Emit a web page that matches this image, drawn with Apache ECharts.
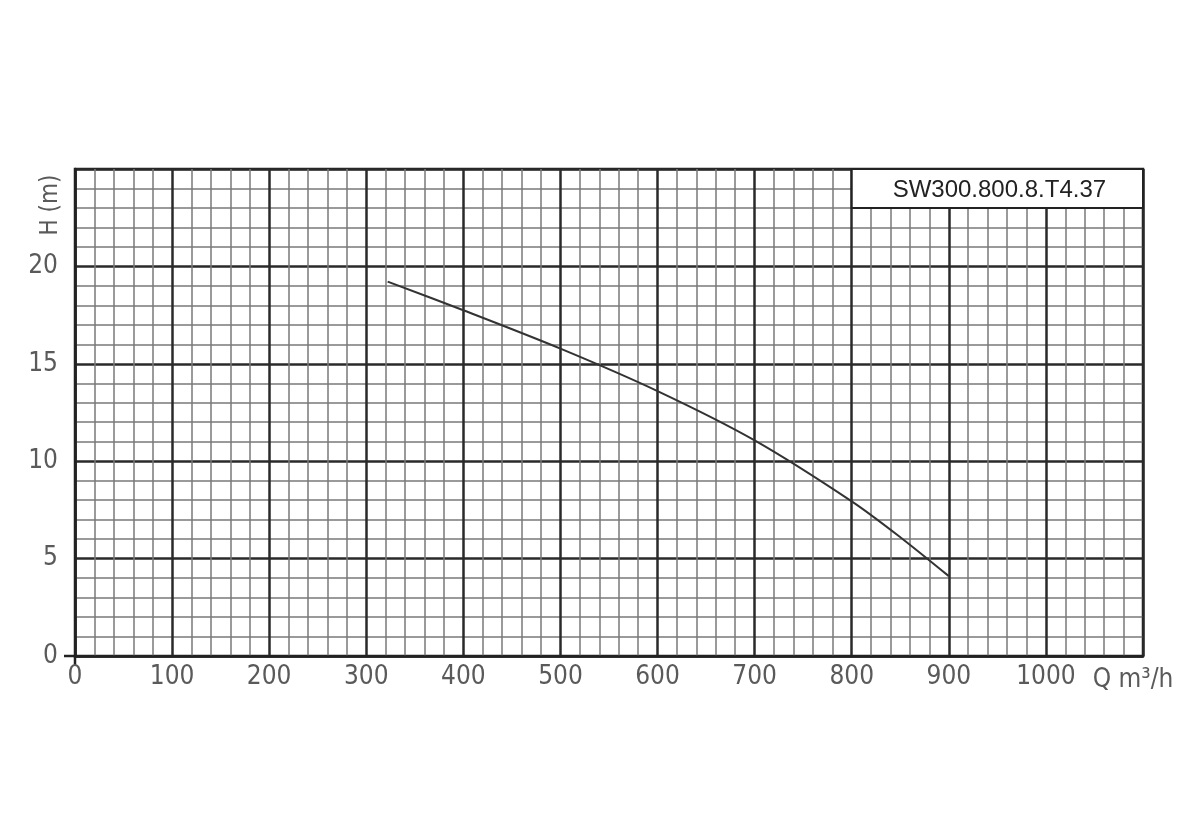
<!DOCTYPE html>
<html>
<head>
<meta charset="utf-8">
<script src="https://cdn.jsdelivr.net/npm/echarts@6/dist/echarts.min.js"></script>
<style>
html,body{margin:0;padding:0;background:#fff;}
#chart{width:1200px;height:832px;}
</style>
</head>
<body>
<div id="chart"></div>
<script>
// Data
const flowQ = [322, 400, 500, 600, 700, 800, 850, 900];
const headH = [19.22, 17.75, 15.78, 13.6, 11.07, 7.94, 6.1, 4.1];
const modelName = 'SW300.800.8.T4.37';
const xTickLabels = ['0','100','200','300','400','500','600','700','800','900','1000'];
const yTickLabels = ['0','5','10','15','20'];
const xAxisName = 'Q m³/h';
const yAxisName = 'H (m)';
const labelBox = [[800, 23], [1100, 25]];

const labelFont = '"DejaVu Sans Condensed", "Liberation Sans Narrow", sans-serif';

const chart = echarts.init(document.getElementById('chart'));
const option = {
  animation: false,
  backgroundColor: '#fff',
  grid: { left: 75, right: 57, top: 169, bottom: 176, show: true, borderColor: '#222', borderWidth: 2.5, backgroundColor: 'transparent' },
  xAxis: {
    type: 'value', min: 0, max: 1100, interval: 100,
    axisLine: { show: true, onZero: false, lineStyle: { color: '#222', width: 2.5 } },
    axisTick: { show: false },
    axisLabel: {
      margin: 8, color: '#5a5a5a', fontSize: 26, fontFamily: labelFont,
      formatter: function (v) { const i = Math.round(v / 100); return xTickLabels[i] !== undefined ? xTickLabels[i] : ''; }
    },
    splitLine: { show: true, lineStyle: { color: '#2a2a2a', width: 2.5 } },
    minorTick: { show: false, splitNumber: 5 },
    minorSplitLine: { show: true, lineStyle: { color: '#7a7a7a', width: 1.5 } }
  },
  yAxis: {
    type: 'value', min: 0, max: 25, interval: 5,
    axisLine: { show: true, onZero: false, lineStyle: { color: '#222', width: 2.5 } },
    axisTick: { show: false },
    axisLabel: {
      margin: 17, color: '#5a5a5a', fontSize: 26, fontFamily: labelFont,
      formatter: function (v) { const i = Math.round(v / 5); return yTickLabels[i] !== undefined ? yTickLabels[i] : ''; }
    },
    splitLine: { show: true, lineStyle: { color: '#2a2a2a', width: 2.5 } },
    minorTick: { show: false, splitNumber: 5 },
    minorSplitLine: { show: true, lineStyle: { color: '#7a7a7a', width: 1.5 } }
  },
  series: [{
    type: 'line',
    data: flowQ.map((q, i) => [q, headH[i]]),
    smooth: 0.3,
    showSymbol: false,
    lineStyle: { color: '#333', width: 2 },
    markArea: {
      silent: true,
      itemStyle: { color: '#fff', borderColor: '#222', borderWidth: 2 },
      label: { show: true, position: 'inside', color: '#222', fontSize: 24, fontFamily: '"Liberation Sans", Arial, sans-serif', offset: [2, 2] },
      data: [[{ coord: labelBox[0], name: modelName }, { coord: labelBox[1] }]]
    }
  }]
};
chart.setOption(option);

const o = chart.convertToPixel({ gridIndex: 0 }, [0, 0]);
const qEnd = chart.convertToPixel({ gridIndex: 0 }, [1100, 0]);
const hTop = chart.convertToPixel({ gridIndex: 0 }, [0, 25]);
chart.setOption({
  graphic: [
    { type: 'line', shape: { x1: o[0] - 11, y1: o[1], x2: o[0], y2: o[1] }, style: { stroke: '#222', lineWidth: 2.5 } },
    { type: 'line', shape: { x1: o[0], y1: o[1], x2: o[0], y2: o[1] + 10 }, style: { stroke: '#222', lineWidth: 2.5 } },
    { type: 'text', x: qEnd[0] - 10, y: o[1] + 24, style: { text: xAxisName, fill: '#5a5a5a', font: '26px ' + labelFont, textAlign: 'center', textVerticalAlign: 'middle' } },
    { type: 'text', x: 51, y: hTop[1] + 36, rotation: Math.PI / 2, style: { text: yAxisName, fill: '#5a5a5a', font: '24px ' + labelFont, textAlign: 'center', textVerticalAlign: 'middle' } }
  ]
});
</script>
</body>
</html>
